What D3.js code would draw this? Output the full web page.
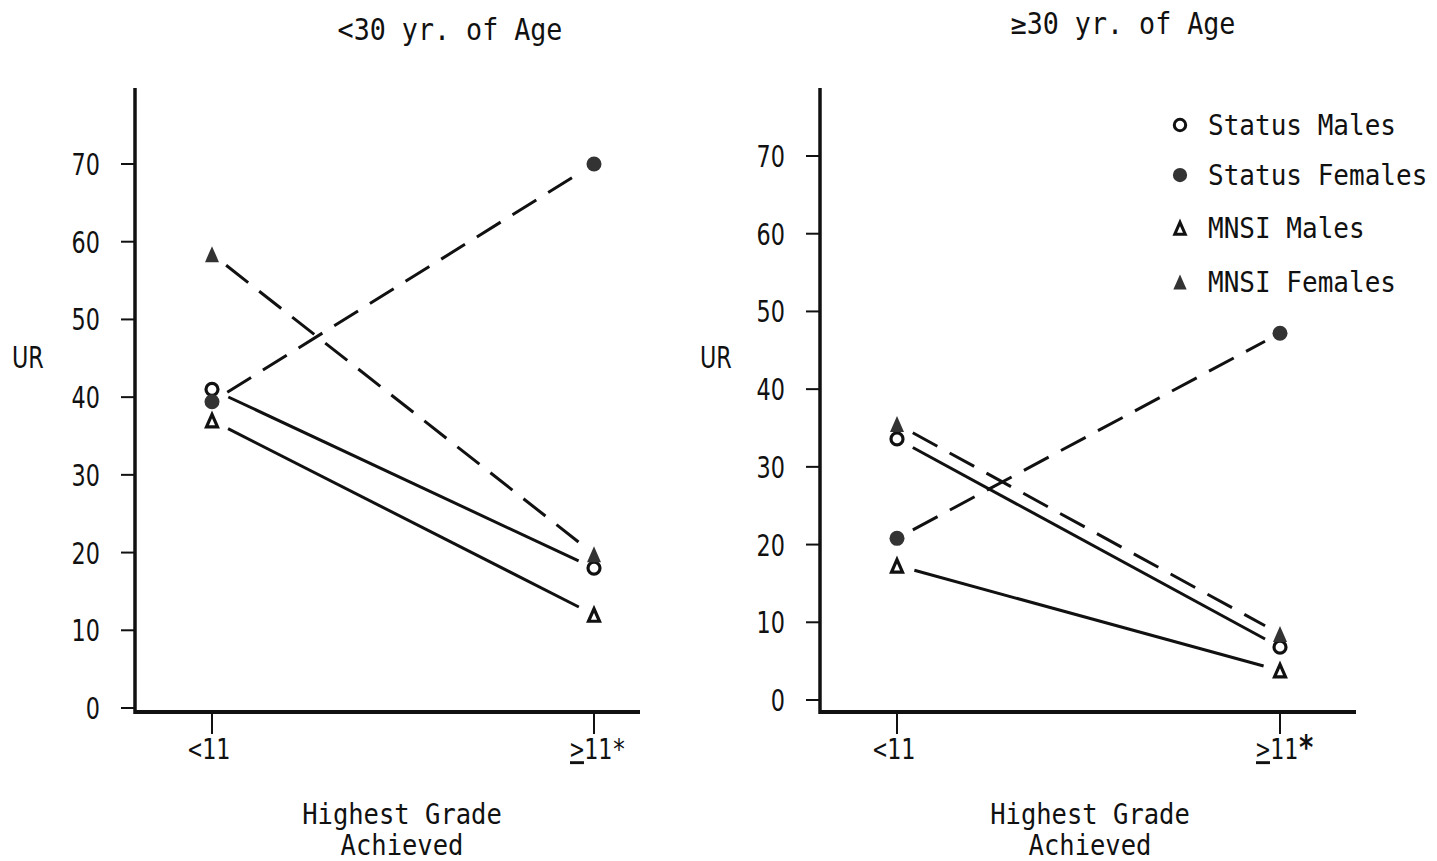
<!DOCTYPE html>
<html>
<head>
<meta charset="utf-8">
<script src="https://cdn.jsdelivr.net/npm/d3@7"></script>
<style>
  html,body{margin:0;padding:0;background:#fff;}
  svg{display:block;}
  text{font-family:"DejaVu Sans Mono",monospace;fill:#111;}
  text.num{font-family:"DejaVu Sans",sans-serif;}
</style>
</head>
<body>
<svg id="chart" width="1437" height="861"></svg>
<script>
// categories and tick labels
const grades = ['<11', '>=11*'];
const yTicks = [0, 10, 20, 30, 40, 50, 60, 70];
const seriesNames = ['Status Males', 'Status Females', 'MNSI Males', 'MNSI Females'];

// UR values, [<11, >=11]
const young_statusMales   = [41, 18];
const young_statusFemales = [39.4, 70];
const young_mnsiMales     = [37, 12];
const young_mnsiFemales   = [58.4, 19.8];

const old_statusMales   = [33.6, 6.8];
const old_statusFemales = [20.8, 47.2];
const old_mnsiMales     = [17.3, 3.8];
const old_mnsiFemales   = [35.5, 8.5];

const INK = '#111', FILL = '#333';
const MARK = {
  'Status Males':   {shape:'circle',   filled:false, dash:null},
  'Status Females': {shape:'circle',   filled:true,  dash:'28,14'},
  'MNSI Males':     {shape:'triangle', filled:false, dash:null},
  'MNSI Females':   {shape:'triangle', filled:true,  dash:'28,14'},
};

const svg = d3.select('#chart');

// text helper: condensed look via horizontal scale
function txt(g, x, y, s, size, k, anchor, cls){
  return g.append('text')
    .attr('class', cls || null)
    .attr('transform', `translate(${x},${y}) scale(${k},1)`)
    .attr('font-size', size)
    .attr('text-anchor', anchor || 'start')
    .text(s);
}

function marker(g, x, y, name, scale){
  const m = MARK[name], sc = scale || 1;
  if(m.shape==='circle'){
    if(m.filled) g.append('circle').attr('cx',x).attr('cy',y).attr('r',7.5*sc).attr('fill',FILL);
    else g.append('circle').attr('cx',x).attr('cy',y).attr('r',6*sc)
      .attr('fill','#fff').attr('stroke',INK).attr('stroke-width',3.2*sc);
  } else {
    const w = 7*sc, h = 8*sc;
    if(m.filled) g.append('path').attr('d',`M${x},${y-h}L${x+w},${y+h}L${x-w},${y+h}Z`).attr('fill',FILL);
    else g.append('path').attr('d', `M${x},${y-h+2*sc}L${x+w-1.5*sc},${y+h-1.5*sc}L${x-w+1.5*sc},${y+h-1.5*sc}Z`)
      .attr('fill','#fff').attr('stroke',INK).attr('stroke-width',3.2*sc).attr('stroke-linejoin','miter');
  }
}

function panel(opt){
  const g = svg.append('g');
  const x = d3.scalePoint().domain(grades).range(opt.xr);
  const y = d3.scaleLinear().domain([0, 70]).range(opt.yr);
  const axY = 712;

  // axes lines
  g.append('line').attr('x1',opt.ax).attr('x2',opt.ax).attr('y1',88).attr('y2',axY+2)
    .attr('stroke',INK).attr('stroke-width',3.5);
  g.append('line').attr('x1',opt.ax-1).attr('x2',opt.xEnd).attr('y1',axY).attr('y2',axY)
    .attr('stroke',INK).attr('stroke-width',4);

  // y ticks
  yTicks.forEach(v=>{
    g.append('line').attr('x1',opt.ax-14).attr('x2',opt.ax).attr('y1',y(v)).attr('y2',y(v))
      .attr('stroke',INK).attr('stroke-width',2);
    txt(g, opt.ax-35, y(v)+11, String(v), 31, 0.72, 'end', 'num');
  });
  txt(g, opt.urX, 368, 'UR', 31, 0.72, 'start', 'num');

  // x ticks
  grades.forEach(c=>{
    g.append('line').attr('x1',x(c)).attr('x2',x(c)).attr('y1',axY).attr('y2',axY+22)
      .attr('stroke',INK).attr('stroke-width',2);
    const t = g.append('text')
      .attr('transform', `translate(${x(c)-24},759) scale(0.8,1)`)
      .attr('font-size', 29);
    if(c.startsWith('>=')){
      t.append('tspan').attr('text-decoration','underline').text('>');
      t.append('tspan').text('11');
      t.append('tspan').attr('font-weight', opt.boldStar ? 'bold' : 'normal')
        .attr('font-size', opt.boldStar ? 34 : 29).text('*');
    } else t.text(c);
  });

  // axis title and panel title
  txt(g, opt.labX, 824, 'Highest Grade', 29, 0.88, 'middle');
  txt(g, opt.labX, 855, 'Achieved', 29, 0.88, 'middle');
  txt(g, opt.titleX, opt.titleY, opt.title, 30, 0.89, 'middle');

  // series lines (shortened so they stop short of the markers)
  const gapL = 18, gapR = 17;
  opt.series.forEach((vals, i)=>{
    const name = seriesNames[i];
    const x0 = x(grades[0]), y0 = y(vals[0]), x1 = x(grades[1]), y1 = y(vals[1]);
    const len = Math.hypot(x1-x0, y1-y0), ux = (x1-x0)/len, uy = (y1-y0)/len;
    g.append('line')
      .attr('x1', x0+ux*gapL).attr('y1', y0+uy*gapL)
      .attr('x2', x1-ux*gapR).attr('y2', y1-uy*gapR)
      .attr('stroke', INK).attr('stroke-width', 3)
      .attr('stroke-dasharray', MARK[name].dash);
  });
  // markers on top
  opt.series.forEach((vals, i)=>{
    vals.forEach((v, j)=> marker(g, x(grades[j]), y(v), seriesNames[i]));
  });
  return g;
}

panel({
  xr:[212, 594], yr:[708, 164], ax:135, xEnd:640, urX:12, labX:402,
  titleX:450, titleY:40, title:'<30 yr. of Age', boldStar:false,
  series:[young_statusMales, young_statusFemales, young_mnsiMales, young_mnsiFemales]
});
panel({
  xr:[897, 1280], yr:[700, 156], ax:820, xEnd:1356, urX:700, labX:1090,
  titleX:1123, titleY:34, title:'\u2265' + '30 yr. of Age', boldStar:true,
  series:[old_statusMales, old_statusFemales, old_mnsiMales, old_mnsiFemales]
});

// legend
const legY = [125, 175, 228, 282];
const leg = svg.append('g');
seriesNames.forEach((n, i)=>{
  marker(leg, 1180, legY[i], n, 0.95);
  txt(leg, 1208, legY[i]+10, n, 28, 0.93, 'start');
});
</script>
</body>
</html>
